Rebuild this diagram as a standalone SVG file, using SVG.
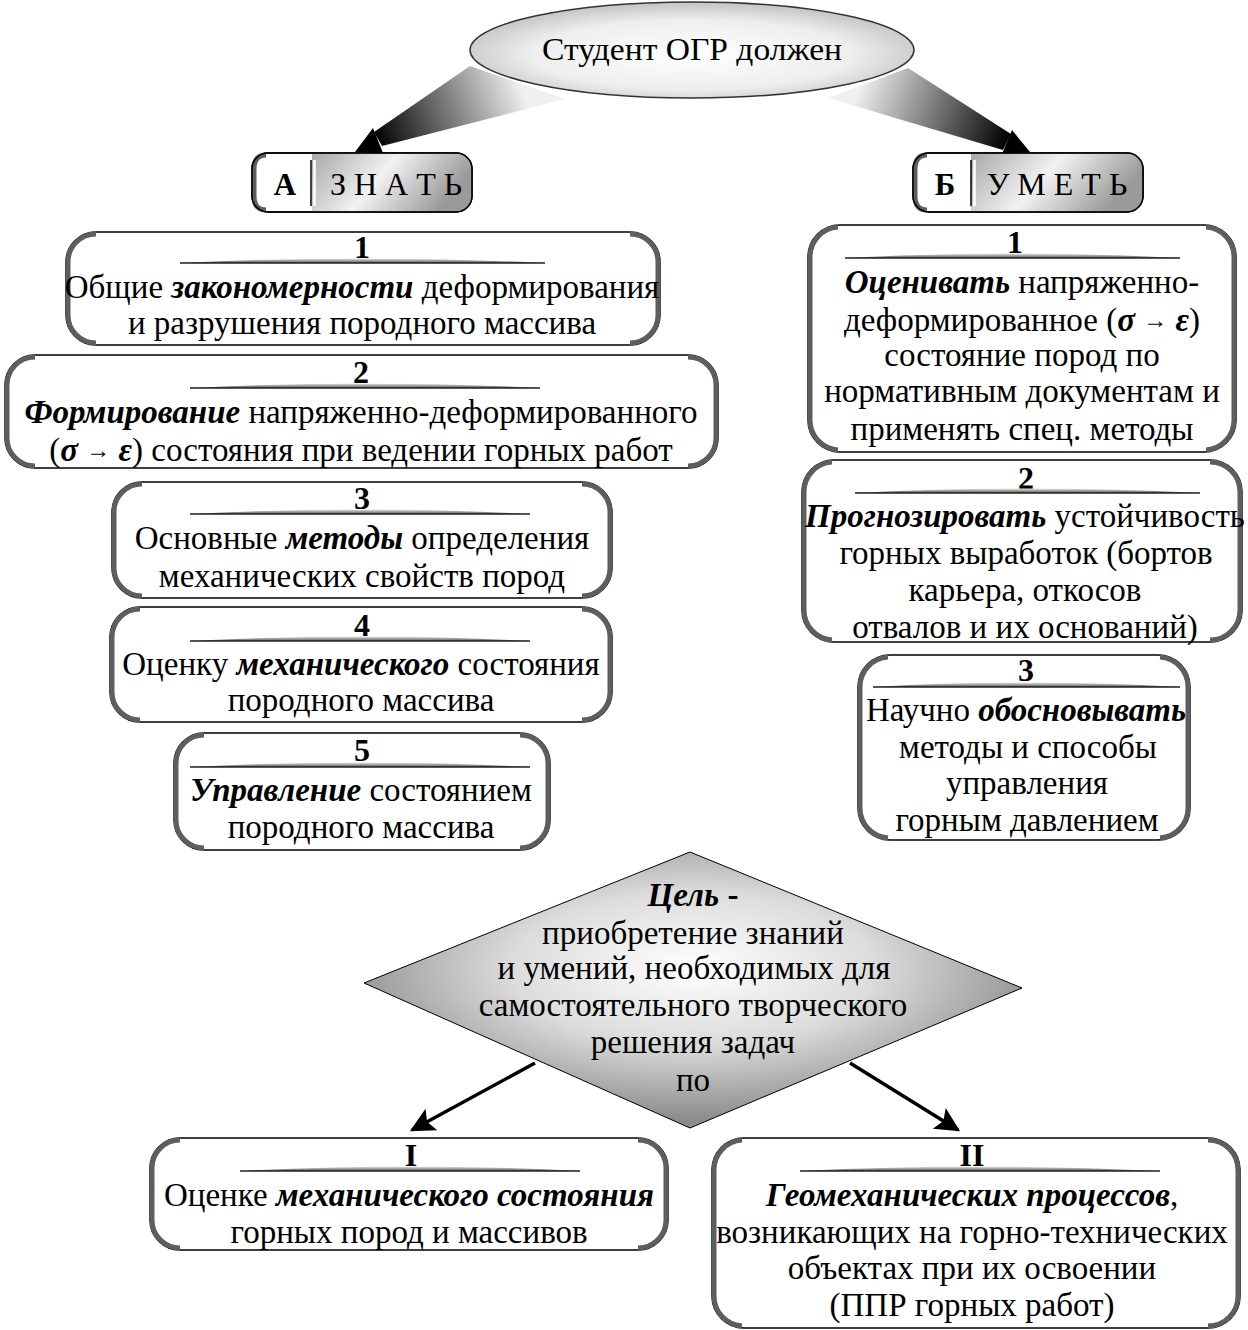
<svg xmlns="http://www.w3.org/2000/svg" width="1248" height="1330" viewBox="0 0 1248 1330">
<defs>
<radialGradient id="ellG" cx="0.5" cy="0.55" r="0.6">
<stop offset="0" stop-color="#ffffff"/><stop offset="0.6" stop-color="#eeeeee"/><stop offset="1" stop-color="#b8b8b8"/>
</radialGradient>
<radialGradient id="diaG" cx="0.5" cy="0.42" r="0.55">
<stop offset="0" stop-color="#ffffff"/><stop offset="0.5" stop-color="#dcdcdc"/><stop offset="1" stop-color="#8c8c8c"/>
</radialGradient>
<linearGradient id="wedgeL" x1="520" y1="85" x2="375" y2="140" gradientUnits="userSpaceOnUse">
<stop offset="0" stop-color="#f0f0f0"/><stop offset="1" stop-color="#000000"/>
</linearGradient>
<linearGradient id="wedgeR" x1="860" y1="85" x2="1008" y2="142" gradientUnits="userSpaceOnUse">
<stop offset="0" stop-color="#f0f0f0"/><stop offset="1" stop-color="#000000"/>
</linearGradient>
<linearGradient id="tabG" x1="0" y1="0" x2="1" y2="0.3">
<stop offset="0" stop-color="#a8a8a8"/><stop offset="0.5" stop-color="#f2f2f2"/><stop offset="1" stop-color="#9a9a9a"/>
</linearGradient>
<linearGradient id="barG" x1="0" y1="0" x2="0" y2="1">
<stop offset="0" stop-color="#e8e8e8"/><stop offset="1" stop-color="#555555"/>
</linearGradient>
<marker id="ahBig" viewBox="0 0 10 10" refX="9" refY="5" markerWidth="9" markerHeight="7" orient="auto">
<path d="M0,0 L10,5 L0,10 L2,5 z" fill="#000"/>
</marker>
</defs>
<style>
text{font-family:"Liberation Serif","Times New Roman",serif;fill:#000;}
.t{font-size:33px;text-anchor:middle;}
.num{font-size:32px;font-weight:bold;text-anchor:middle;}
.bi{font-weight:bold;font-style:italic;}
.box{fill:#fff;stroke:#000;stroke-width:1.5;}
.side{fill:none;stroke:#5e5e5e;stroke-width:5;}
.bar{fill:url(#barG);stroke:none;}
.barl{stroke:#222;stroke-width:1.5;}
.arr{stroke:#000;stroke-width:3.5;fill:none;marker-end:url(#ahBig);}
.sm{font-size:24px;font-weight:bold;}
</style>
<rect width="1248" height="1330" fill="#fff"/>

<g id="connectors">
<polygon points="470,66 565,99 382,146 374,132" fill="url(#wedgeL)"/>
<polygon points="355,152 373,128 383,153" fill="#000"/>
<polygon points="908,68 828,98 1003,150 1011,134" fill="url(#wedgeR)"/>
<polygon points="1030,152 1012,130 1002,154" fill="#000"/>
<line class="arr" x1="535" y1="1063" x2="412" y2="1130"/>
<line class="arr" x1="850" y1="1063" x2="958" y2="1130"/>
</g>

<g id="node-student">
<ellipse cx="692" cy="50" rx="222" ry="48" fill="url(#ellG)" stroke="#333" stroke-width="1.5"/>
<text x="692" y="60" style="font-size:32px;text-anchor:middle" textLength="300" lengthAdjust="spacingAndGlyphs">Студент ОГР должен</text>
</g>

<g id="node-znat">
<rect class="box" x="252" y="153" width="220" height="59" rx="16"/>
<path d="M312 153.7 H456 Q471.3 153.7 471.3 169 V196 Q471.3 211.3 456 211.3 H312 Z" fill="url(#tabG)"/>
<path class="side" d="M266 155 Q254 155 254 169 V196 Q254 210 266 210"/>
<rect x="252" y="153" width="220" height="59" rx="16" fill="none" stroke="#000" stroke-width="1.5"/>
<line x1="311" y1="160" x2="311" y2="206" stroke="#000" stroke-width="1.5"/>
<line x1="314.5" y1="160" x2="314.5" y2="206" stroke="#fff" stroke-width="2.5"/>
<text x="285" y="195" style="font-size:31px;font-weight:bold;text-anchor:middle">А</text>
<text x="396" y="195" style="font-size:32px;text-anchor:middle">З Н А Т Ь</text>
</g>

<g id="node-umet">
<rect class="box" x="913" y="153" width="230" height="59" rx="16"/>
<path d="M971 153.7 H1127 Q1142.3 153.7 1142.3 169 V196 Q1142.3 211.3 1127 211.3 H971 Z" fill="url(#tabG)"/>
<path class="side" d="M927 155 Q915 155 915 169 V196 Q915 210 927 210"/>
<rect x="913" y="153" width="230" height="59" rx="16" fill="none" stroke="#000" stroke-width="1.5"/>
<line x1="971" y1="160" x2="971" y2="206" stroke="#000" stroke-width="1.5"/>
<line x1="974.5" y1="160" x2="974.5" y2="206" stroke="#fff" stroke-width="2.5"/>
<text x="945" y="195" style="font-size:31px;font-weight:bold;text-anchor:middle">Б</text>
<text x="1057" y="195" style="font-size:32px;text-anchor:middle">У М Е Т Ь</text>
</g>

<g id="node-a1">
<rect class="box" x="66" y="232" width="594" height="113" rx="30"/>
<path class="side" d="M96 234 A28 28 0 0 0 68 262 V315 A28 28 0 0 0 96 343"/>
<path class="side" d="M630 234 A28 28 0 0 1 658 262 V315 A28 28 0 0 1 630 343"/>
<text class="num" x="362" y="258">1</text>
<path class="bar" d="M180 263 Q362 254 545 263 Z"/><line class="barl" x1="180" y1="263" x2="545" y2="263"/>
<text class="t" x="362" y="298">Общие <tspan class="bi">закономерности</tspan> деформирования</text>
<text class="t" x="362" y="334">и разрушения породного массива</text>
</g>

<g id="node-a2">
<rect class="box" x="5" y="355" width="713" height="113" rx="30"/>
<path class="side" d="M35 357 A28 28 0 0 0 7 385 V438 A28 28 0 0 0 35 466"/>
<path class="side" d="M688 357 A28 28 0 0 1 716 385 V438 A28 28 0 0 1 688 466"/>
<text class="num" x="361" y="383">2</text>
<path class="bar" d="M190 388 Q362 379 540 388 Z"/><line class="barl" x1="190" y1="388" x2="540" y2="388"/>
<text class="t" x="361" y="423"><tspan class="bi">Формирование</tspan> напряженно-деформированного</text>
<text class="t" x="361" y="461">(<tspan class="bi">σ</tspan> <tspan class="sm" dy="-3">→</tspan> <tspan class="bi" dy="3">ε</tspan>) состояния при ведении горных работ</text>
</g>

<g id="node-a3">
<rect class="box" x="112" y="482" width="500" height="116" rx="30"/>
<path class="side" d="M142 484 A28 28 0 0 0 114 512 V568 A28 28 0 0 0 142 596"/>
<path class="side" d="M582 484 A28 28 0 0 1 610 512 V568 A28 28 0 0 1 582 596"/>
<text class="num" x="362" y="509">3</text>
<path class="bar" d="M190 514 Q362 505 530 514 Z"/><line class="barl" x1="190" y1="514" x2="530" y2="514"/>
<text class="t" x="362" y="549">Основные <tspan class="bi">методы</tspan> определения</text>
<text class="t" x="362" y="587">механических свойств пород</text>
</g>

<g id="node-a4">
<rect class="box" x="110" y="607" width="502" height="115" rx="30"/>
<path class="side" d="M140 609 A28 28 0 0 0 112 637 V692 A28 28 0 0 0 140 720"/>
<path class="side" d="M582 609 A28 28 0 0 1 610 637 V692 A28 28 0 0 1 582 720"/>
<text class="num" x="362" y="636">4</text>
<path class="bar" d="M190 641 Q362 632 530 641 Z"/><line class="barl" x1="190" y1="641" x2="530" y2="641"/>
<text class="t" x="361" y="675">Оценку <tspan class="bi">механического</tspan> состояния</text>
<text class="t" x="361" y="711">породного массива</text>
</g>

<g id="node-a5">
<rect class="box" x="174" y="733" width="376" height="117" rx="30"/>
<path class="side" d="M204 735 A28 28 0 0 0 176 763 V820 A28 28 0 0 0 204 848"/>
<path class="side" d="M520 735 A28 28 0 0 1 548 763 V820 A28 28 0 0 1 520 848"/>
<text class="num" x="362" y="761">5</text>
<path class="bar" d="M190 767 Q362 758 530 767 Z"/><line class="barl" x1="190" y1="767" x2="530" y2="767"/>
<text class="t" x="361" y="801"><tspan class="bi">Управление</tspan> состоянием</text>
<text class="t" x="361" y="838">породного массива</text>
</g>

<g id="node-b1">
<rect class="box" x="808" y="225" width="428" height="227" rx="32"/>
<path class="side" d="M838 227 A30 30 0 0 0 810 257 V420 A30 30 0 0 0 838 450"/>
<path class="side" d="M1206 227 A30 30 0 0 1 1234 257 V420 A30 30 0 0 1 1206 450"/>
<text class="num" x="1015" y="253">1</text>
<path class="bar" d="M845 258 Q1012 249 1180 258 Z"/><line class="barl" x1="845" y1="258" x2="1180" y2="258"/>
<text class="t" x="1022" y="293"><tspan class="bi">Оценивать</tspan> напряженно-</text>
<text class="t" x="1022" y="331">деформированное (<tspan class="bi">σ</tspan> <tspan class="sm" dy="-3">→</tspan> <tspan class="bi" dy="3">ε</tspan>)</text>
<text class="t" x="1022" y="366">состояние пород по</text>
<text class="t" x="1022" y="402">нормативным документам и</text>
<text class="t" x="1022" y="440">применять спец. методы</text>
</g>

<g id="node-b2">
<rect class="box" x="802" y="460" width="440" height="182" rx="32"/>
<path class="side" d="M832 462 A30 30 0 0 0 804 492 V610 A30 30 0 0 0 832 640"/>
<path class="side" d="M1210 462 A30 30 0 0 1 1240 492 V610 A30 30 0 0 1 1210 640"/>
<text class="num" x="1026" y="489">2</text>
<path class="bar" d="M855 493 Q1027 484 1200 493 Z"/><line class="barl" x1="855" y1="493" x2="1200" y2="493"/>
<text class="t" x="1025" y="527"><tspan class="bi">Прогнозировать</tspan> устойчивость</text>
<text class="t" x="1026" y="564">горных выработок (бортов</text>
<text class="t" x="1025" y="601">карьера, откосов</text>
<text class="t" x="1025" y="638">отвалов и их оснований)</text>
</g>

<g id="node-b3">
<rect class="box" x="858" y="655" width="332" height="185" rx="32"/>
<path class="side" d="M888 657 A30 30 0 0 0 860 687 V808 A30 30 0 0 0 888 838"/>
<path class="side" d="M1160 657 A30 30 0 0 1 1188 687 V808 A30 30 0 0 1 1160 838"/>
<text class="num" x="1026" y="681">3</text>
<path class="bar" d="M873 687 Q1026 678 1180 687 Z"/><line class="barl" x1="873" y1="687" x2="1180" y2="687"/>
<text class="t" x="1026" y="721">Научно <tspan class="bi">обосновывать</tspan></text>
<text class="t" x="1028" y="758">методы и способы</text>
<text class="t" x="1027" y="794">управления</text>
<text class="t" x="1027" y="831">горным давлением</text>
</g>

<g id="node-goal">
<polygon points="690,852 1022,988 690,1128 364,983" fill="url(#diaG)" stroke="#000" stroke-width="1"/>
<text class="t" x="693" y="906"><tspan class="bi">Цель</tspan> <tspan font-weight="bold">-</tspan></text>
<text class="t" x="693" y="944">приобретение знаний</text>
<text class="t" x="694" y="979">и умений, необходимых для</text>
<text class="t" x="693" y="1016">самостоятельного творческого</text>
<text class="t" x="693" y="1053">решения задач</text>
<text class="t" x="693" y="1091">по</text>
</g>

<g id="node-c1">
<rect class="box" x="150" y="1138" width="518" height="112" rx="30"/>
<path class="side" d="M180 1140 A28 28 0 0 0 152 1168 V1220 A28 28 0 0 0 180 1248"/>
<path class="side" d="M638 1140 A28 28 0 0 1 666 1168 V1220 A28 28 0 0 1 638 1248"/>
<text class="num" x="411" y="1166">I</text>
<path class="bar" d="M240 1171 Q411 1162 580 1171 Z"/><line class="barl" x1="240" y1="1171" x2="580" y2="1171"/>
<text class="t" x="409" y="1206">Оценке <tspan class="bi">механического состояния</tspan></text>
<text class="t" x="409" y="1243">горных пород и массивов</text>
</g>

<g id="node-c2">
<rect class="box" x="712" y="1138" width="528" height="190" rx="32"/>
<path class="side" d="M742 1140 A30 30 0 0 0 714 1170 V1296 A30 30 0 0 0 742 1326"/>
<path class="side" d="M1208 1140 A30 30 0 0 1 1238 1170 V1296 A30 30 0 0 1 1208 1326"/>
<text class="num" x="972" y="1166">II</text>
<path class="bar" d="M800 1171 Q980 1162 1160 1171 Z"/><line class="barl" x1="800" y1="1171" x2="1160" y2="1171"/>
<text class="t" x="972" y="1206"><tspan class="bi">Геомеханических процессов</tspan>,</text>
<text class="t" x="972" y="1243">возникающих на горно-технических</text>
<text class="t" x="972" y="1279">объектах при их освоении</text>
<text class="t" x="972" y="1316">(ППР горных работ)</text>
</g>
</svg>
